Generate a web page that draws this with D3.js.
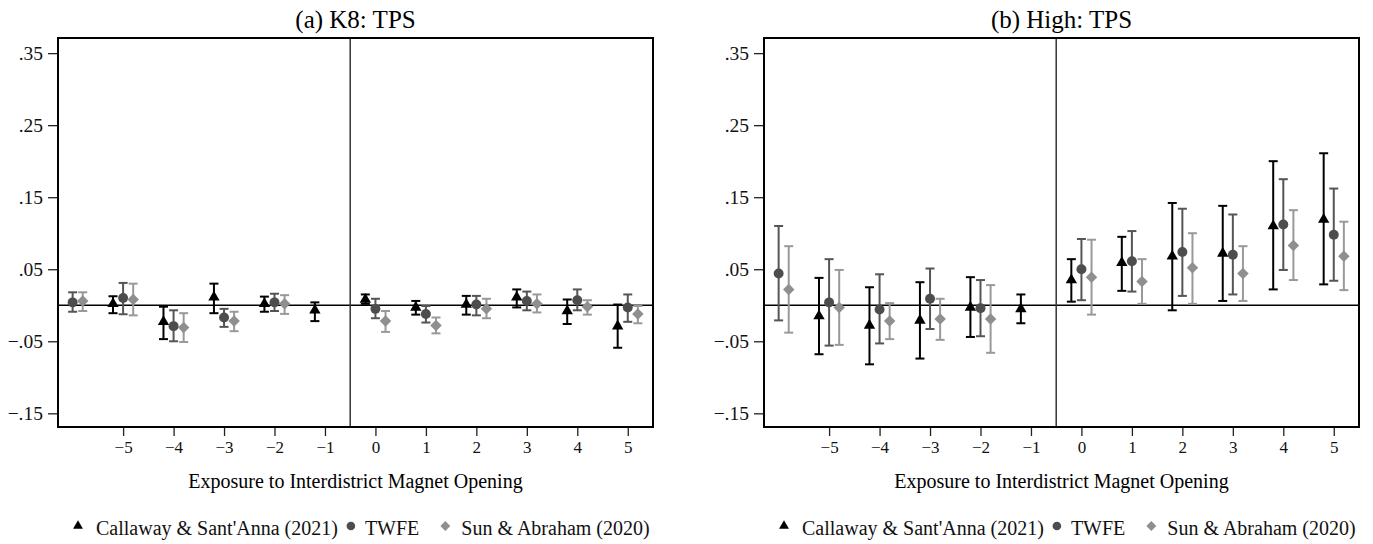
<!DOCTYPE html>
<html><head><meta charset="utf-8">
<script src="https://cdn.jsdelivr.net/npm/d3@7"></script>
<style>body{margin:0;background:#fff}</style>
</head><body><svg id="c" width="1373" height="544"></svg>
<script>
const periods = [-6,-5,-4,-3,-2,-1,0,1,2,3,4,5];
const xTickValues = [-5,-4,-3,-2,-1,0,1,2,3,4,5];
const yTickValues = [-0.15,-0.05,0.05,0.15,0.25,0.35];
const panelTitles = ["(a) K8: TPS", "(b) High: TPS"];
const xAxisTitle = "Exposure to Interdistrict Magnet Opening";
const seriesNames = ["Callaway & Sant'Anna (2021)", "TWFE", "Sun & Abraham (2020)"];

// Panel (a) K8: TPS
const k8CsEst = [null, 0.002, -0.023, 0.011, 0.002, -0.007, 0.008, -0.003, 0.001, 0.011, -0.008, -0.029];
const k8CsLo  = [null, -0.011, -0.047, -0.011, -0.009, -0.022, 0.002, -0.013, -0.013, -0.003, -0.026, -0.059];
const k8CsHi  = [null, 0.0125, -0.002, 0.030, 0.012, 0.004, 0.015, 0.006, 0.013, 0.022, 0.008, 0.001];
const k8TwEst = [0.004, 0.010, -0.029, -0.017, 0.004, null, -0.005, -0.012, 0.001, 0.006, 0.007, -0.003];
const k8TwLo  = [-0.009, -0.0125, -0.050, -0.030, -0.008, null, -0.018, -0.024, -0.014, -0.007, -0.007, -0.023];
const k8TwHi  = [0.018, 0.031, -0.007, -0.005, 0.016, null, 0.009, -0.001, 0.013, 0.019, 0.022, 0.015];
const k8SaEst = [0.006, 0.008, -0.031, -0.022, 0.002, null, -0.022, -0.028, -0.005, 0.002, -0.002, -0.012];
const k8SaLo  = [-0.008, -0.014, -0.051, -0.036, -0.012, null, -0.037, -0.039, -0.018, -0.010, -0.013, -0.025];
const k8SaHi  = [0.018, 0.030, -0.011, -0.009, 0.014, null, -0.008, -0.017, 0.009, 0.015, 0.007, -0.001];

// Panel (b) High: TPS
const hiCsEst = [null, -0.015, -0.028, -0.021, -0.003, -0.005, 0.035, 0.059, 0.068, 0.072, 0.110, 0.119];
const hiCsLo  = [null, -0.068, -0.082, -0.074, -0.044, -0.025, 0.005, 0.020, -0.007, 0.006, 0.022, 0.029];
const hiCsHi  = [null, 0.038, 0.025, 0.032, 0.039, 0.015, 0.064, 0.095, 0.142, 0.138, 0.200, 0.211];
const hiTwEst = [0.044, 0.004, -0.006, 0.009, -0.004, null, 0.050, 0.061, 0.074, 0.070, 0.112, 0.098];
const hiTwLo  = [-0.021, -0.056, -0.053, -0.033, -0.043, null, 0.007, 0.019, 0.013, 0.015, 0.049, 0.034];
const hiTwHi  = [0.110, 0.064, 0.043, 0.051, 0.035, null, 0.092, 0.103, 0.134, 0.126, 0.175, 0.162];
const hiSaEst = [0.022, -0.003, -0.022, -0.019, -0.019, null, 0.039, 0.033, 0.052, 0.044, 0.083, 0.068];
const hiSaLo  = [-0.038, -0.055, -0.047, -0.048, -0.066, null, -0.013, 0.002, 0.002, 0.006, 0.035, 0.021];
const hiSaHi  = [0.082, 0.049, 0.003, 0.009, 0.028, null, 0.091, 0.064, 0.100, 0.082, 0.132, 0.116];

const panels = [
  {title: panelTitles[0], series: [[k8CsEst,k8CsLo,k8CsHi],[k8TwEst,k8TwLo,k8TwHi],[k8SaEst,k8SaLo,k8SaHi]]},
  {title: panelTitles[1], series: [[hiCsEst,hiCsLo,hiCsHi],[hiTwEst,hiTwLo,hiTwHi],[hiSaEst,hiSaLo,hiSaHi]]}
];

const styles = [
  {sym: d3.symbolTriangle, size: 56, fill: "#000", line: "#000", off: -0.2, rot: 0},
  {sym: d3.symbolCircle, size: 78, fill: "#4d4d4d", line: "#555", off: 0, rot: 0},
  {sym: d3.symbolSquare, size: 66, fill: "#8f8f8f", line: "#999", off: 0.2, rot: 45}
];

const svg = d3.select("#c");
const serif = "'Liberation Serif', 'Times New Roman', serif";
const plotTop = 38, plotBottom = 427;
const panelLefts = [58, 764], plotW = 595;
const y = d3.scaleLinear().domain([-0.169, 0.371]).range([plotBottom, plotTop]);
const fmt = d => d3.format(".2f")(d).replace("0.", ".");

panels.forEach((p, pi) => {
  const left = panelLefts[pi];
  const x = d3.scaleLinear().domain([-6.29, 5.5]).range([left, left + plotW]);
  const g = svg.append("g");

  g.append("text").attr("x", left + plotW/2).attr("y", 28).attr("text-anchor","middle")
    .style("font-family", serif).style("font-size","25px").text(p.title);

  const ya = g.append("g").attr("transform", `translate(${left},0)`)
    .call(d3.axisLeft(y).tickValues(yTickValues).tickFormat(fmt).tickSize(10).tickPadding(5));
  ya.select(".domain").remove();
  ya.selectAll("text").style("font-family", serif).style("font-size","19.5px").attr("fill","#111");
  ya.selectAll("line").attr("stroke","#222").attr("stroke-width",1.3);

  const xa = g.append("g").attr("transform", `translate(0,${plotBottom})`)
    .call(d3.axisBottom(x).tickValues(xTickValues).tickFormat(d3.format("d")).tickSize(9).tickPadding(5));
  xa.select(".domain").remove();
  xa.selectAll("text").style("font-family", serif).style("font-size","17px").attr("fill","#111");
  xa.selectAll("line").attr("stroke","#222").attr("stroke-width",1.3);

  g.append("text").attr("x", left + plotW/2).attr("y", 488).attr("text-anchor","middle")
    .style("font-family", serif).style("font-size","20px").text(xAxisTitle);

  g.append("line").attr("x1", left).attr("x2", left+plotW).attr("y1", y(0)).attr("y2", y(0))
    .attr("stroke","#000").attr("stroke-width",1.5);
  g.append("line").attr("x1", x(-0.5)).attr("x2", x(-0.5)).attr("y1", plotTop).attr("y2", plotBottom)
    .attr("stroke","#333").attr("stroke-width",1.5);

  p.series.forEach((s, si) => {
    const st = styles[si];
    const pts = periods.map((t, i) => ({t, est: s[0][i], lo: s[1][i], hi: s[2][i]})).filter(d => d.est !== null);
    const sg = g.append("g");
    const cx = d => x(d.t + st.off);
    sg.selectAll("line.ci").data(pts).join("line").attr("class","ci")
      .attr("x1", cx).attr("x2", cx).attr("y1", d => y(d.lo)).attr("y2", d => y(d.hi))
      .attr("stroke", st.line).attr("stroke-width", 2);
    ["lo","hi"].forEach(k => {
      sg.selectAll("line.cap"+k).data(pts).join("line").attr("class","cap"+k)
        .attr("x1", d => cx(d) - 4.5).attr("x2", d => cx(d) + 4.5)
        .attr("y1", d => y(d[k])).attr("y2", d => y(d[k]))
        .attr("stroke", st.line).attr("stroke-width", 2);
    });
    sg.selectAll("path.m").data(pts).join("path").attr("class","m")
      .attr("d", d3.symbol().type(st.sym).size(st.size))
      .attr("transform", d => `translate(${cx(d)},${y(d.est)}) rotate(${st.rot})`)
      .attr("fill", st.fill);
  });

  g.append("rect").attr("x", left).attr("y", plotTop).attr("width", plotW).attr("height", plotBottom - plotTop)
    .attr("fill","none").attr("stroke","#000").attr("stroke-width",2);

  // legend
  const lg = g.append("g");
  const gapsAfter = [13, 26, 0];
  const textOffset = [18, 14, 16];
  let cur = left + 20;
  seriesNames.forEach((name, si) => {
    const st = styles[si];
    lg.append("path").attr("d", d3.symbol().type(st.sym).size(st.size*0.75))
      .attr("transform", `translate(${cur},526) rotate(${st.rot})`).attr("fill", st.fill);
    const t = lg.append("text").attr("x", cur + textOffset[si]).attr("y", 535)
      .style("font-family", serif).style("font-size","20px").attr("fill","#111").text(name);
    const w = t.node().getComputedTextLength();
    cur = cur + textOffset[si] + w + gapsAfter[si];
  });
});
</script></body></html>
